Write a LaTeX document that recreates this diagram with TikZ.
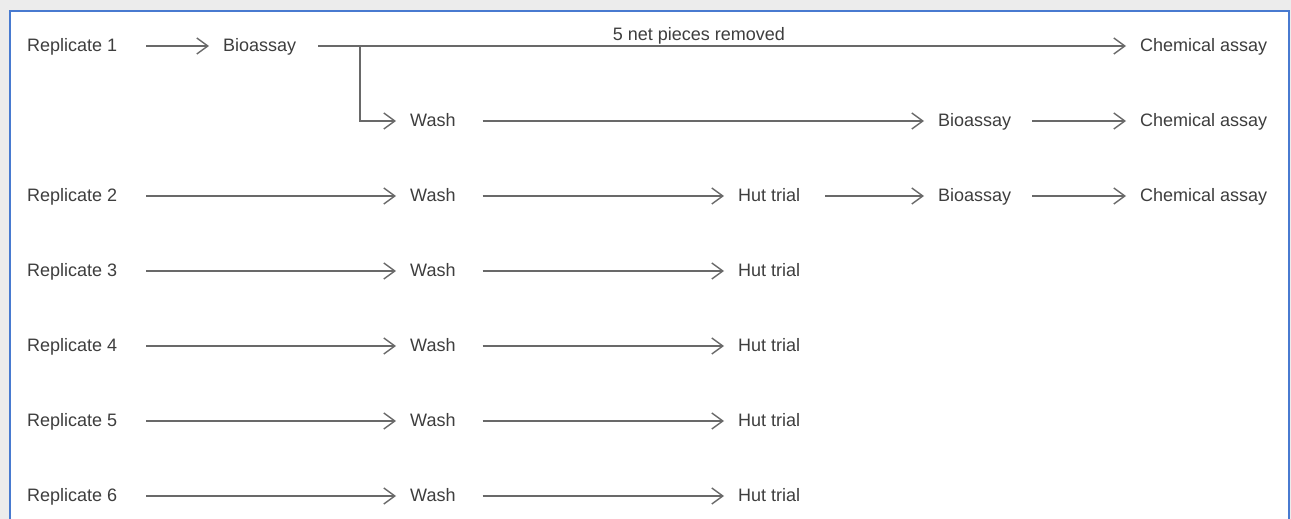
\documentclass[tikz,border=0pt]{standalone}
\usepackage{fontspec}
\setmainfont{Liberation Sans}
\usetikzlibrary{arrows.meta}
\definecolor{framebl}{RGB}{72,122,208}
\definecolor{edgegr}{RGB}{236,236,236}
\definecolor{ink}{RGB}{62,62,62}
\definecolor{wire}{RGB}{105,105,105}
\tikzset{lbl/.style = {anchor=west, inner sep=0pt, text=ink, font=\fontsize{18}{21}\selectfont, text height=1.05em, text depth=0pt},
         flow/.style = {draw=wire, line width=1.4pt, -{Straight Barb[length=11pt,width=16pt,line width=1.4pt]}, shorten <=29pt, shorten >=14pt}}

\begin{document}
\begin{tikzpicture}[x=1pt,y=1pt]
\useasboundingbox (0,0) rectangle (1291,519);
\fill[edgegr] (0,0) rectangle (1291,519);
\fill[white] (10,0) rectangle (1289,508);
\draw[framebl, line width=1.6pt] (10,0) -- (10,508) -- (1289,508) -- (1289,0);
% replicate 1
\node[lbl] (rep1) at (27,473) {Replicate 1};
\node[lbl] (bio1) at (223,473) {Bioassay};
\node[lbl] (chem1) at (1140,473) {Chemical assay};
\node[lbl] (wash1) at (410,398) {Wash};
\node[lbl] (bio1b) at (938,398) {Bioassay};
\node[lbl] (chem1b) at (1140,398) {Chemical assay};
\coordinate (split) at (360,473);
\draw[flow] (rep1) -- (bio1);
\draw[flow, shorten <=22pt] (bio1) -- (chem1) node[lbl, anchor=south, pos=0.477, above=5pt, text height=0.72em] (cut) {5 net pieces removed};
\draw[flow, shorten <=0pt] (split) |- (wash1);
\draw[flow, shorten <=27pt] (wash1) -- (bio1b);
\draw[flow, shorten <=21pt] (bio1b) -- (chem1b);
% replicate 2
\node[lbl] (rep2) at (27,323) {Replicate 2};
\node[lbl] (wash2) at (410,323) {Wash};
\node[lbl] (hut2) at (738,323) {Hut trial};
\node[lbl] (bio2) at (938,323) {Bioassay};
\node[lbl] (chem2) at (1140,323) {Chemical assay};
\draw[flow] (rep2) -- (wash2);
\draw[flow, shorten <=27pt] (wash2) -- (hut2);
\draw[flow, shorten <=25pt] (hut2) -- (bio2);
\draw[flow, shorten <=21pt] (bio2) -- (chem2);
% replicates 3 to 6
\foreach \n/\y in {3/248,4/173,5/98,6/23} {
  \node[lbl] (rep\n) at (27,\y) {Replicate \n};
  \node[lbl] (wash\n) at (410,\y) {Wash};
  \node[lbl] (hut\n) at (738,\y) {Hut trial};
  \draw[flow] (rep\n) -- (wash\n);
  \draw[flow, shorten <=27pt] (wash\n) -- (hut\n);
}
\end{tikzpicture}
\end{document}
